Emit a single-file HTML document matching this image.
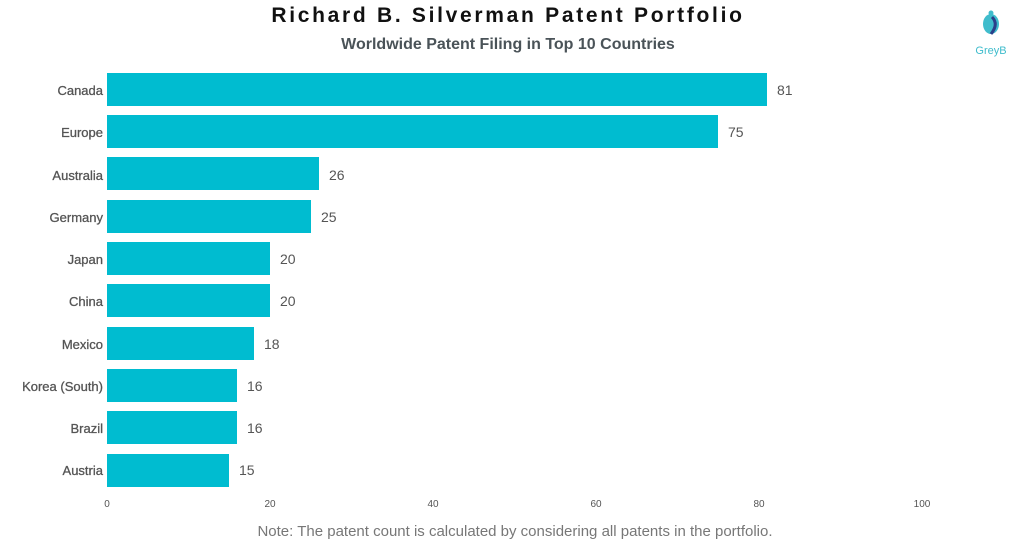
<!DOCTYPE html>
<html><head><meta charset="utf-8"><style>
body{margin:0;background:#fff;width:1024px;height:546px;overflow:hidden}
svg{display:block}
text{font-family:"Liberation Sans",sans-serif}
</style></head><body>
<svg width="1024" height="546" viewBox="0 0 1024 546">
<text x="508" y="22" text-anchor="middle" font-size="21" font-weight="bold" letter-spacing="2.7" fill="#111">Richard B. Silverman Patent Portfolio</text>
<text x="508" y="49" text-anchor="middle" font-size="16" font-weight="bold" fill="#4a5358">Worldwide Patent Filing in Top 10 Countries</text>
<ellipse cx="991" cy="24" rx="8" ry="10" fill="#3fbccc"/>
<path d="M992 17 Q999 24 991 34" stroke="#2b3f8a" stroke-width="3" fill="none"/>
<circle cx="991" cy="13" r="2.5" fill="#3fbccc"/>
<text x="991" y="54" text-anchor="middle" font-size="11" fill="#3fbccc">GreyB</text>
<g font-size="13" fill="#555" stroke="#555" stroke-width="0.3" text-anchor="end">
<text x="103" y="95">Canada</text>
<text x="103" y="137">Europe</text>
<text x="103" y="180">Australia</text>
<text x="103" y="222">Germany</text>
<text x="103" y="264">Japan</text>
<text x="103" y="306">China</text>
<text x="103" y="349">Mexico</text>
<text x="103" y="391">Korea (South)</text>
<text x="103" y="433">Brazil</text>
<text x="103" y="475">Austria</text>
</g>
<g fill="#00bcd0">
<rect x="107" y="73" width="660" height="33"/>
<rect x="107" y="115" width="611" height="33"/>
<rect x="107" y="157" width="212" height="33"/>
<rect x="107" y="200" width="204" height="33"/>
<rect x="107" y="242" width="163" height="33"/>
<rect x="107" y="284" width="163" height="33"/>
<rect x="107" y="327" width="147" height="33"/>
<rect x="107" y="369" width="130" height="33"/>
<rect x="107" y="411" width="130" height="33"/>
<rect x="107" y="454" width="122" height="33"/>
</g>
<g font-size="14" fill="#555">
<text x="777" y="95">81</text>
<text x="728" y="137">75</text>
<text x="329" y="180">26</text>
<text x="321" y="222">25</text>
<text x="280" y="264">20</text>
<text x="280" y="306">20</text>
<text x="264" y="349">18</text>
<text x="247" y="391">16</text>
<text x="247" y="433">16</text>
<text x="239" y="475">15</text>
</g>
<g font-size="10" fill="#555" text-anchor="middle">
<text x="107" y="507">0</text>
<text x="270" y="507">20</text>
<text x="433" y="507">40</text>
<text x="596" y="507">60</text>
<text x="759" y="507">80</text>
<text x="922" y="507">100</text>
</g>
<text x="515" y="536" text-anchor="middle" font-size="15" fill="#777">Note: The patent count is calculated by considering all patents in the portfolio.</text>
</svg>
</body></html>
